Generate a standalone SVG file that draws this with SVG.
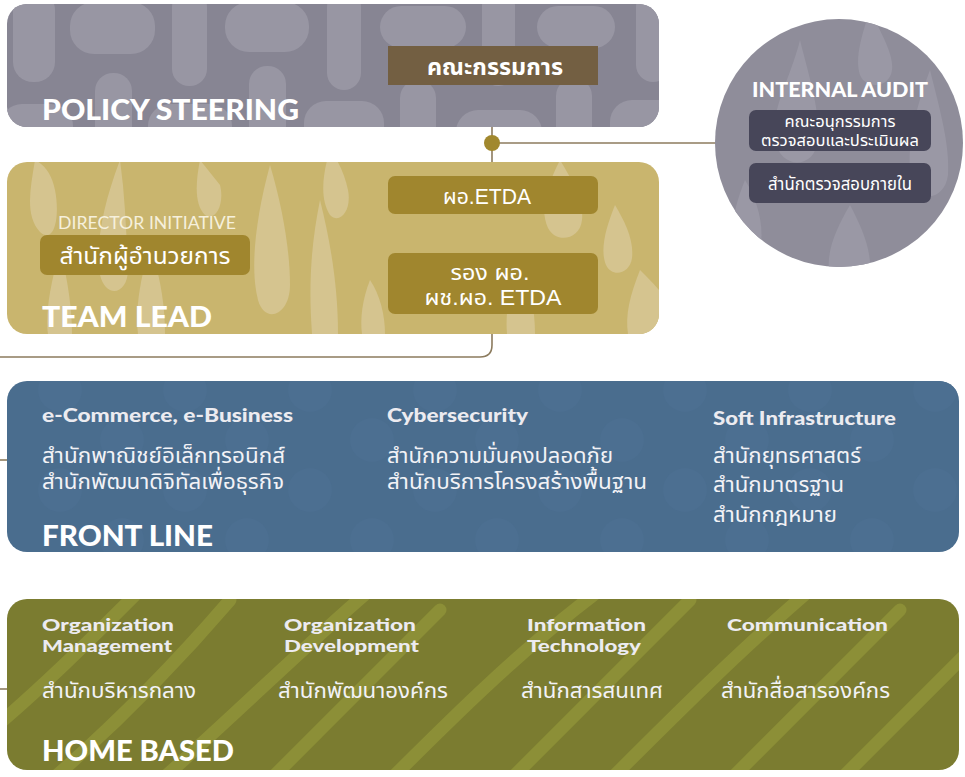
<svg xmlns="http://www.w3.org/2000/svg" width="965" height="777" viewBox="0 0 965 777">
<style>
.big{font-family:"Lato","Open Sans",sans-serif;font-weight:900;font-size:28px;fill:#ffffff}
.hd{font-family:"Lato","Open Sans",sans-serif;font-weight:900;font-size:19px;fill:#ecebf0}
.hd2{font-family:"Lato","Open Sans",sans-serif;font-weight:900;font-size:17px;fill:#ecebf0}
.th{font-family:"Liberation Sans","Noto Sans Thai","Noto Sans",sans-serif;font-size:22px;fill:#f2f2f6}
.bx{font-family:"Liberation Sans","Noto Sans Thai","Noto Sans",sans-serif;font-size:22px;fill:#ffffff;text-anchor:middle}
.bxb{font-family:"Liberation Sans","Noto Sans Thai","Noto Sans",sans-serif;font-weight:700;font-size:23px;fill:#ffffff;text-anchor:middle}
.sm{font-family:"Liberation Sans","Noto Sans Thai","Noto Sans",sans-serif;font-size:16.5px;fill:#ffffff;text-anchor:middle}
.conn{fill:none;stroke:#8c7b5e;stroke-width:1.6}
.pblob{fill:#9896a3}
.tdrop{fill:#d5c48f}
.fdot{fill:#4c6f91}
.hstripe{fill:none;stroke:#8c8f37;stroke-width:13;stroke-linecap:round}
.cdrop{fill:#9a98a5}
</style>
<defs>
<clipPath id="cpPolicy"><rect x="7" y="4" width="652" height="123" rx="20"/></clipPath>
<clipPath id="cpTeam"><rect x="7" y="162" width="652" height="172" rx="20"/></clipPath>
<clipPath id="cpFront"><rect x="7" y="381" width="952" height="171" rx="20"/></clipPath>
<clipPath id="cpHome"><rect x="7" y="599" width="952" height="171" rx="20"/></clipPath>
<clipPath id="cpCircle"><circle cx="839" cy="143" r="124"/></clipPath>
</defs>

<g id="connectors">
<path class="conn" d="M492 85 V345 Q492 357 480 357 H0"/>
<line class="conn" x1="492" y1="143" x2="720" y2="143"/>
<line class="conn" x1="0" y1="460" x2="8" y2="460"/>
<line class="conn" x1="0" y1="689" x2="8" y2="689"/>
<circle cx="492" cy="143" r="8" fill="#a1882e"/>
</g>

<g id="policy-steering">
<rect x="7" y="4" width="652" height="123" rx="20" fill="#878593"/>
<g clip-path="url(#cpPolicy)">
<rect class="pblob" x="13" y="-10" width="42" height="92" rx="20"/>
<rect class="pblob" x="70" y="2" width="85" height="52" rx="24"/>
<rect class="pblob" x="172" y="-10" width="35" height="96" rx="17"/>
<rect class="pblob" x="225" y="2" width="84" height="50" rx="24"/>
<rect class="pblob" x="327" y="-10" width="34" height="100" rx="17"/>
<rect class="pblob" x="380" y="6" width="86" height="42" rx="21"/>
<rect class="pblob" x="482" y="-10" width="33" height="96" rx="16"/>
<rect class="pblob" x="537" y="6" width="78" height="42" rx="21"/>
<rect class="pblob" x="636" y="-10" width="34" height="92" rx="17"/>
<rect class="pblob" x="95" y="73" width="37" height="80" rx="18"/>
<rect class="pblob" x="0" y="104" width="73" height="50" rx="22"/>
<rect class="pblob" x="148" y="104" width="84" height="50" rx="22"/>
<rect class="pblob" x="249" y="66" width="37" height="80" rx="18"/>
<rect class="pblob" x="304" y="101" width="80" height="50" rx="22"/>
<rect class="pblob" x="400" y="80" width="36" height="80" rx="18"/>
<rect class="pblob" x="456" y="110" width="86" height="50" rx="22"/>
<rect class="pblob" x="556" y="78" width="36" height="80" rx="18"/>
<rect class="pblob" x="610" y="100" width="70" height="50" rx="22"/>
</g>
<rect x="388" y="46" width="210" height="39" fill="#735f42"/>
<text class="bxb" x="495" y="75" textLength="136" lengthAdjust="spacingAndGlyphs">คณะกรรมการ</text>
<text class="big" x="42" y="120" textLength="257" lengthAdjust="spacingAndGlyphs">POLICY STEERING</text>
</g>

<g id="internal-audit">
<circle cx="839" cy="143" r="124" fill="#8f8d9a"/>
<g clip-path="url(#cpCircle)">
<path class="cdrop" d="M800 40 C790 80 770 110 775 140 C780 170 815 170 818 140 C820 110 810 80 800 40Z"/>
<path class="cdrop" d="M870 10 C860 40 855 60 860 75 C866 90 890 88 892 70 C894 55 882 35 870 10Z"/>
<path class="cdrop" d="M930 70 C915 110 905 150 912 180 C918 205 945 200 948 175 C950 145 940 110 930 70Z"/>
<path class="cdrop" d="M850 205 C835 230 825 255 830 275 L870 275 C872 250 862 228 850 205Z"/>
<path class="cdrop" d="M745 180 C735 205 730 225 735 245 L760 250 C765 225 757 200 745 180Z"/>
</g>
<text x="840" y="97" textLength="176" lengthAdjust="spacingAndGlyphs" style="font-family:Lato,sans-serif;font-weight:900;font-size:21px;fill:#ffffff;text-anchor:middle">INTERNAL AUDIT</text>
<rect x="749" y="110" width="182" height="41" rx="7" fill="#474659"/>
<text class="sm" x="840" y="127" textLength="111" lengthAdjust="spacingAndGlyphs">คณะอนุกรรมการ</text>
<text class="sm" x="840" y="146" textLength="158" lengthAdjust="spacingAndGlyphs">ตรวจสอบและประเมินผล</text>
<rect x="749" y="163" width="182" height="40" rx="7" fill="#474659"/>
<text class="sm" x="840" y="190" style="font-size:17px" textLength="144" lengthAdjust="spacingAndGlyphs">สำนักตรวจสอบภายใน</text>
</g>

<g id="team-lead">
<rect x="7" y="162" width="652" height="172" rx="20" fill="#c9b56e"/>
<g clip-path="url(#cpTeam)">
<path class="tdrop" d="M35 160 C30 190 25 215 40 232 C55 245 60 215 55 190 C52 175 45 165 35 160Z"/>
<path class="tdrop" d="M120 160 C105 200 95 240 100 275 C106 300 130 295 128 265 C126 230 125 195 120 160Z"/>
<path class="tdrop" d="M200 160 C195 185 195 205 205 215 C215 222 225 205 220 185 Z"/>
<path class="tdrop" d="M270 165 C255 220 250 270 258 300 C265 325 290 315 290 285 C290 250 282 205 270 165Z"/>
<path class="tdrop" d="M330 150 C322 175 320 200 330 215 C340 225 352 210 348 190 C345 175 338 160 330 150Z"/>
<path class="tdrop" d="M150 245 C140 280 135 310 138 334 L165 334 C165 305 160 275 150 245Z"/>
<path class="tdrop" d="M60 250 C50 285 45 315 48 334 L72 334 C72 310 68 280 60 250Z"/>
<path class="tdrop" d="M370 280 C362 300 360 320 362 334 L385 334 C385 315 380 295 370 280Z"/>
<path class="tdrop" d="M320 200 C312 240 308 280 312 334 L338 334 C338 285 330 240 320 200Z"/>
<path class="tdrop" d="M560 160 C545 190 540 210 548 228 C556 244 580 240 582 220 C584 200 572 180 560 160Z"/>
<path class="tdrop" d="M615 205 C605 230 600 250 606 265 C612 278 630 274 632 258 C634 240 625 222 615 205Z"/>
<path class="tdrop" d="M520 260 C510 285 505 310 507 334 L535 334 C535 310 530 285 520 260Z"/>
<path class="tdrop" d="M640 270 C630 295 625 315 628 334 L659 334 L659 290 C652 282 646 276 640 270Z"/>
</g>
<rect x="388" y="176" width="210" height="38" rx="7" fill="#a0862e"/>
<text class="bx" x="487" y="204" textLength="88" lengthAdjust="spacingAndGlyphs">ผอ.ETDA</text>
<rect x="388" y="253" width="210" height="61" rx="7" fill="#a0862e"/>
<text class="bx" x="490" y="280" textLength="79" lengthAdjust="spacingAndGlyphs">รอง ผอ.</text>
<text class="bx" x="493" y="305" textLength="137" lengthAdjust="spacingAndGlyphs">ผช.ผอ. ETDA</text>
<text x="147" y="229" textLength="178" lengthAdjust="spacingAndGlyphs" style="font-family:Lato,sans-serif;font-size:17px;fill:#f6f0dc;text-anchor:middle">DIRECTOR INITIATIVE</text>
<rect x="40" y="235" width="210" height="40" rx="7" fill="#a0862e"/>
<text class="bx" x="145" y="264" style="font-size:23px" textLength="171" lengthAdjust="spacingAndGlyphs">สำนักผู้อำนวยการ</text>
<text class="big" x="42" y="327" textLength="170" lengthAdjust="spacingAndGlyphs">TEAM LEAD</text>
</g>

<g id="front-line">
<rect x="7" y="381" width="952" height="171" rx="20" fill="#4a6d8e"/>
<g clip-path="url(#cpFront)">
<circle class="fdot" cx="60" cy="390" r="22"/><circle class="fdot" cx="185" cy="390" r="22"/><circle class="fdot" cx="310" cy="390" r="22"/><circle class="fdot" cx="435" cy="390" r="22"/><circle class="fdot" cx="560" cy="390" r="22"/><circle class="fdot" cx="685" cy="390" r="22"/><circle class="fdot" cx="810" cy="390" r="22"/><circle class="fdot" cx="935" cy="390" r="22"/>
<circle class="fdot" cx="122" cy="440" r="22"/><circle class="fdot" cx="247" cy="440" r="22"/><circle class="fdot" cx="372" cy="440" r="22"/><circle class="fdot" cx="497" cy="440" r="22"/><circle class="fdot" cx="622" cy="440" r="22"/><circle class="fdot" cx="747" cy="440" r="22"/><circle class="fdot" cx="872" cy="440" r="22"/>
<circle class="fdot" cx="60" cy="490" r="22"/><circle class="fdot" cx="185" cy="490" r="22"/><circle class="fdot" cx="310" cy="490" r="22"/><circle class="fdot" cx="435" cy="490" r="22"/><circle class="fdot" cx="560" cy="490" r="22"/><circle class="fdot" cx="685" cy="490" r="22"/><circle class="fdot" cx="810" cy="490" r="22"/><circle class="fdot" cx="935" cy="490" r="22"/>
<circle class="fdot" cx="122" cy="540" r="22"/><circle class="fdot" cx="247" cy="540" r="22"/><circle class="fdot" cx="372" cy="540" r="22"/><circle class="fdot" cx="497" cy="540" r="22"/><circle class="fdot" cx="622" cy="540" r="22"/><circle class="fdot" cx="747" cy="540" r="22"/><circle class="fdot" cx="872" cy="540" r="22"/>
</g>
<text class="hd" x="42" y="422" textLength="251" lengthAdjust="spacingAndGlyphs">e-Commerce, e-Business</text>
<text class="th" x="42" y="463" textLength="243" lengthAdjust="spacingAndGlyphs">สำนักพาณิชย์อิเล็กทรอนิกส์</text>
<text class="th" x="42" y="489" textLength="242" lengthAdjust="spacingAndGlyphs">สำนักพัฒนาดิจิทัลเพื่อธุรกิจ</text>
<text class="hd" x="387" y="422" textLength="141" lengthAdjust="spacingAndGlyphs">Cybersecurity</text>
<text class="th" x="387" y="463" textLength="226" lengthAdjust="spacingAndGlyphs">สำนักความมั่นคงปลอดภัย</text>
<text class="th" x="387" y="489" textLength="260" lengthAdjust="spacingAndGlyphs">สำนักบริการโครงสร้างพื้นฐาน</text>
<text class="hd" x="713" y="425" textLength="183" lengthAdjust="spacingAndGlyphs">Soft Infrastructure</text>
<text class="th" x="713" y="463" textLength="148" lengthAdjust="spacingAndGlyphs">สำนักยุทธศาสตร์</text>
<text class="th" x="713" y="492" textLength="131" lengthAdjust="spacingAndGlyphs">สำนักมาตรฐาน</text>
<text class="th" x="713" y="522" textLength="124" lengthAdjust="spacingAndGlyphs">สำนักกฎหมาย</text>
<text class="big" x="42" y="546" textLength="171" lengthAdjust="spacingAndGlyphs">FRONT LINE</text>
</g>

<g id="home-based">
<rect x="7" y="599" width="952" height="171" rx="20" fill="#7b7c30"/>
<g clip-path="url(#cpHome)">
<path class="hstripe" d="M-20 740 C40 690 90 640 140 590"/>
<path class="hstripe" d="M40 790 C110 730 170 670 230 600"/>
<path class="hstripe" d="M150 790 C230 720 300 650 370 590"/>
<path class="hstripe" d="M260 790 C330 720 380 670 440 610"/>
<path class="hstripe" d="M380 790 C450 720 520 650 600 590"/>
<path class="hstripe" d="M500 790 C560 730 620 670 690 600"/>
<path class="hstripe" d="M600 790 C670 720 740 650 810 590"/>
<path class="hstripe" d="M720 790 C780 730 840 670 900 610"/>
<path class="hstripe" d="M830 790 C880 740 930 690 980 640"/>
</g>
<text class="hd2" x="42" y="631" textLength="132" lengthAdjust="spacingAndGlyphs">Organization</text>
<text class="hd2" x="42" y="652" textLength="130" lengthAdjust="spacingAndGlyphs">Management</text>
<text class="hd2" x="284" y="631" textLength="132" lengthAdjust="spacingAndGlyphs">Organization</text>
<text class="hd2" x="284" y="652" textLength="135" lengthAdjust="spacingAndGlyphs">Development</text>
<text class="hd2" x="527" y="631" textLength="119" lengthAdjust="spacingAndGlyphs">Information</text>
<text class="hd2" x="527" y="652" textLength="114" lengthAdjust="spacingAndGlyphs">Technology</text>
<text class="hd2" x="727" y="631" textLength="161" lengthAdjust="spacingAndGlyphs">Communication</text>
<text class="th" x="42" y="698" textLength="154" lengthAdjust="spacingAndGlyphs">สำนักบริหารกลาง</text>
<text class="th" x="278" y="698" textLength="170" lengthAdjust="spacingAndGlyphs">สำนักพัฒนาองค์กร</text>
<text class="th" x="521" y="698" textLength="142" lengthAdjust="spacingAndGlyphs">สำนักสารสนเทศ</text>
<text class="th" x="721" y="698" textLength="169" lengthAdjust="spacingAndGlyphs">สำนักสื่อสารองค์กร</text>
<text class="big" x="42" y="761" textLength="192" lengthAdjust="spacingAndGlyphs">HOME BASED</text>
</g>
</svg>
